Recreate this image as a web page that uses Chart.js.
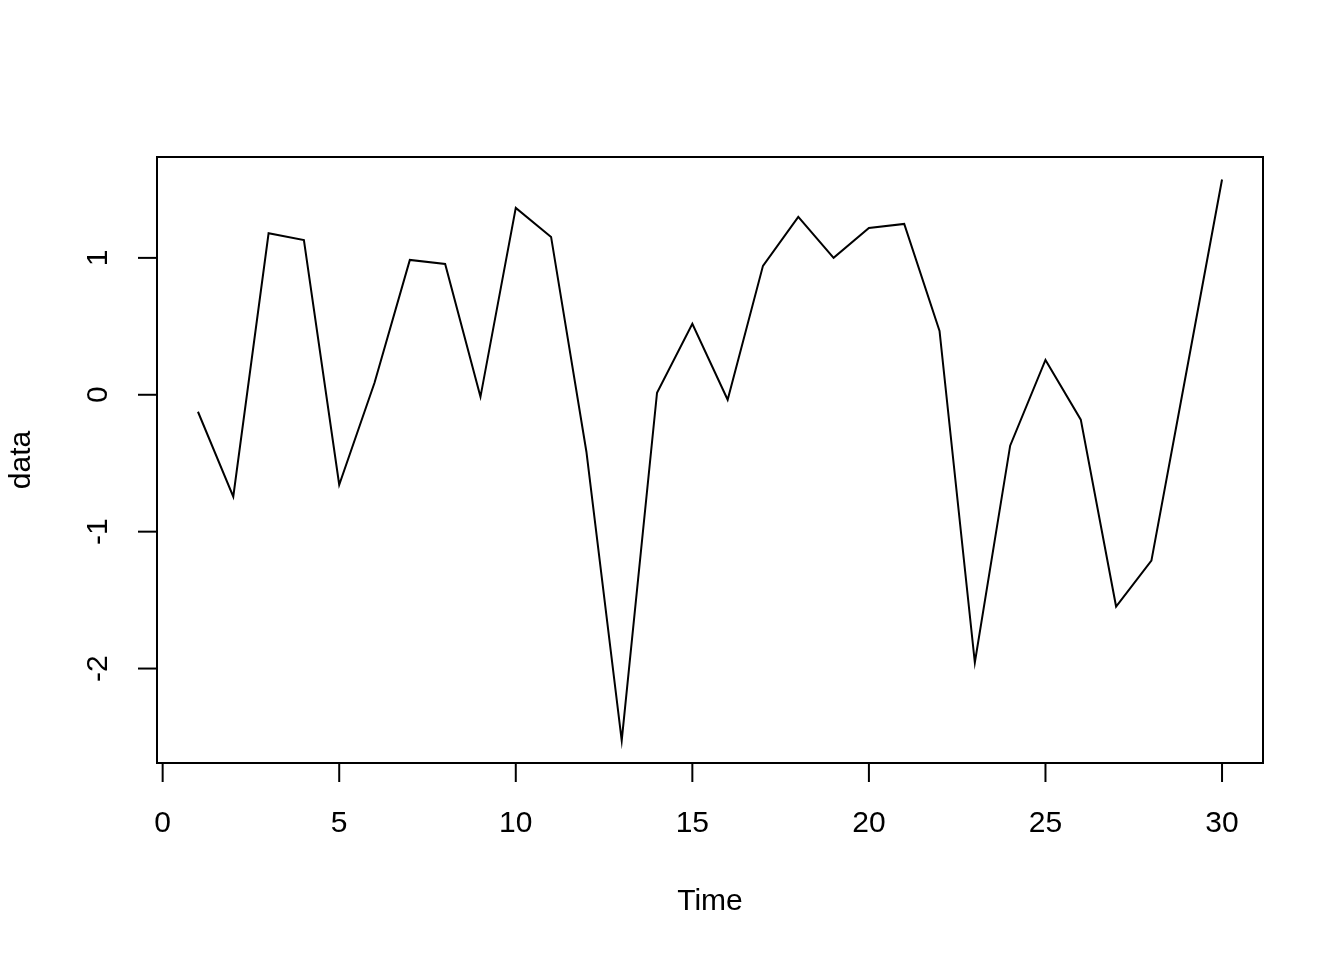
<!DOCTYPE html>
<html>
<head>
<meta charset="utf-8">
<script src="https://cdn.jsdelivr.net/npm/chart.js@4"></script>
<style>
    html, body { margin: 0; padding: 0; background: #ffffff; }
    #wrap { width: 1344px; height: 960px; }
</style>
</head>
<body>
<div id="wrap"><canvas id="tsChart" width="1344" height="960"></canvas></div>
<script>
// Series data
const timeSteps = [1, 2, 3, 4, 5, 6, 7, 8, 9, 10, 11, 12, 13, 14, 15,
                   16, 17, 18, 19, 20, 21, 22, 23, 24, 25, 26, 27, 28, 29, 30];
const dataValues = [-0.124, -0.745, 1.18, 1.13, -0.657, 0.088, 0.985, 0.956, -0.015, 1.365,
                    1.153, -0.416, -2.526, 0.015, 0.518, -0.036, 0.942, 1.30, 1.0, 1.219,
                    1.248, 0.467, -1.956, -0.372, 0.255, -0.182, -1.547, -1.212, 0.179, 1.573];
const xTickValues = [0, 5, 10, 15, 20, 25, 30];
const yTickValues = [-2, -1, 0, 1];
const xTitle = 'Time';
const yTitle = 'data';

const FONT = '30px "Liberation Sans", Arial, sans-serif';
const TICK_LEN = 19;

// R style box + axes, drawn from the chart's own scales
const rAxes = {
    id: 'rAxes',
    afterDraw(chart) {
        const ctx = chart.ctx;
        const area = chart.chartArea;
        const xs = chart.scales.x;
        const ys = chart.scales.y;
        ctx.save();
        ctx.strokeStyle = '#000';
        ctx.fillStyle = '#000';
        ctx.lineWidth = 2;
        ctx.strokeRect(area.left, area.top, area.right - area.left, area.bottom - area.top);

        // x axis
        const x0 = xs.getPixelForValue(xTickValues[0]);
        const x1 = xs.getPixelForValue(xTickValues[xTickValues.length - 1]);
        ctx.beginPath();
        ctx.moveTo(x0, area.bottom);
        ctx.lineTo(x1, area.bottom);
        ctx.stroke();
        ctx.font = FONT;
        ctx.textAlign = 'center';
        ctx.textBaseline = 'middle';
        xTickValues.forEach(v => {
            const px = xs.getPixelForValue(v);
            ctx.beginPath();
            ctx.moveTo(px, area.bottom);
            ctx.lineTo(px, area.bottom + TICK_LEN);
            ctx.stroke();
            ctx.fillText(String(v), px, area.bottom + 61);
        });
        ctx.fillText(xTitle, (area.left + area.right) / 2, area.bottom + 139);

        // y axis
        const y0 = ys.getPixelForValue(yTickValues[0]);
        const y1 = ys.getPixelForValue(yTickValues[yTickValues.length - 1]);
        ctx.beginPath();
        ctx.moveTo(area.left, y0);
        ctx.lineTo(area.left, y1);
        ctx.stroke();
        yTickValues.forEach(v => {
            const py = ys.getPixelForValue(v);
            ctx.beginPath();
            ctx.moveTo(area.left, py);
            ctx.lineTo(area.left - TICK_LEN, py);
            ctx.stroke();
            ctx.save();
            ctx.translate(area.left - 58, py);
            ctx.rotate(-Math.PI / 2);
            ctx.fillText(String(v), 0, 0);
            ctx.restore();
        });
        ctx.save();
        ctx.translate(area.left - 135, (area.top + area.bottom) / 2);
        ctx.rotate(-Math.PI / 2);
        ctx.fillText(yTitle, 0, 0);
        ctx.restore();
        ctx.restore();
    }
};

const ctx = document.getElementById('tsChart').getContext('2d');
const tsChart = new Chart(ctx, {
    type: 'line',
    data: {
        datasets: [{
            label: yTitle,
            data: timeSteps.map((t, i) => ({ x: t, y: dataValues[i] })),
            borderColor: '#000000',
            borderWidth: 2,
            pointRadius: 0,
            tension: 0,
            fill: false
        }]
    },
    options: {
        responsive: false,
        animation: false,
        layout: { padding: { left: 157, top: 157, right: 81, bottom: 197 } },
        plugins: { legend: { display: false }, tooltip: { enabled: false } },
        scales: {
            x: { type: 'linear', min: -0.16, max: 31.16, display: false },
            y: { type: 'linear', min: -2.69, max: 1.737, display: false }
        }
    },
    plugins: [rAxes]
});
</script>
</body>
</html>
